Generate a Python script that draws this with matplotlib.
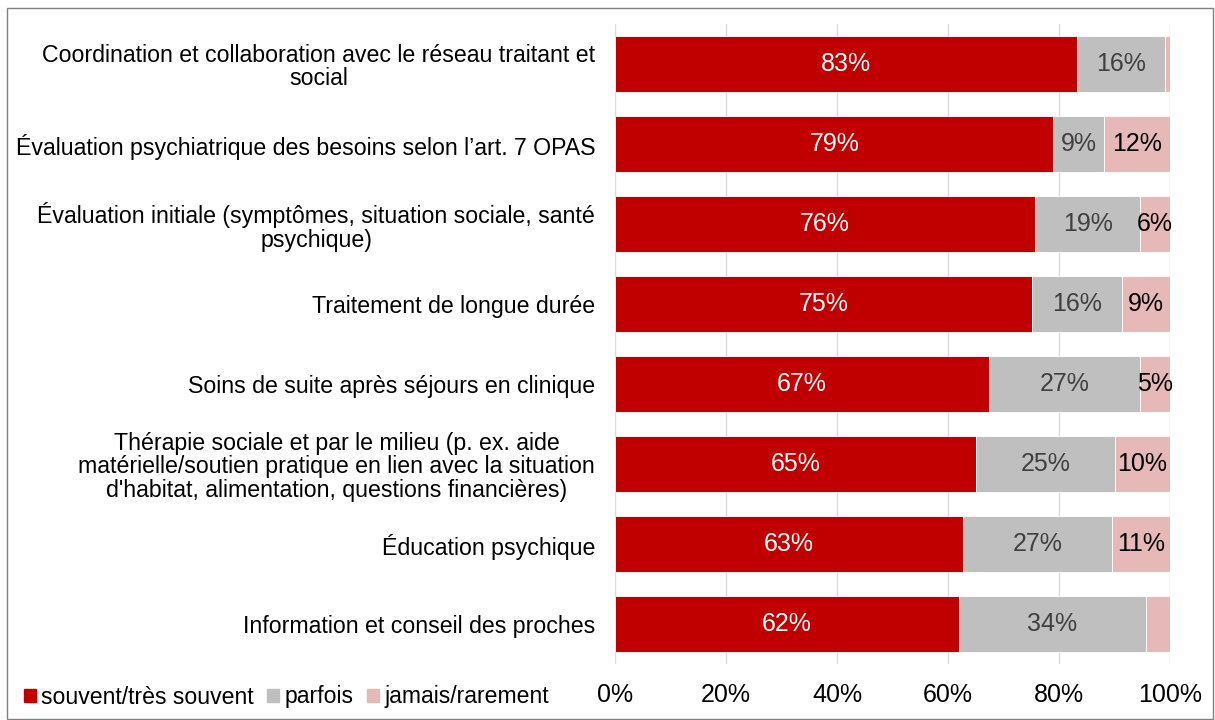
import matplotlib
matplotlib.use("Agg")
import matplotlib.pyplot as plt
from matplotlib.patches import Patch, Rectangle
from matplotlib.ticker import PercentFormatter

plt.rcParams["font.family"] = ["Liberation Sans", "DejaVu Sans"]

# ---------------------------
# Données
# ---------------------------
categories = [
    "Coordination et collaboration avec le réseau traitant et\nsocial",
    "Évaluation psychiatrique des besoins selon l’art. 7 OPAS",
    "Évaluation initiale (symptômes, situation sociale, santé\npsychique)",
    "Traitement de longue durée",
    "Soins de suite après séjours en clinique",
    "Thérapie sociale et par le milieu (p. ex. aide\nmatérielle/soutien pratique en lien avec la situation\nd'habitat, alimentation, questions financières)",
    "Éducation psychique",
    "Information et conseil des proches",
]
souvent = [83.2, 79.0, 75.7, 75.1, 67.4, 65.0, 62.7, 61.9]
parfois = [15.9, 9.1, 18.9, 16.3, 27.2, 25.1, 26.8, 33.7]
jamais = [0.9, 11.9, 5.4, 8.6, 5.4, 9.9, 10.5, 4.4]

lab_souvent = ["83%", "79%", "76%", "75%", "67%", "65%", "63%", "62%"]
lab_parfois = ["16%", "9%", "19%", "16%", "27%", "25%", "27%", "34%"]
lab_jamais = ["", "12%", "6%", "9%", "5%", "10%", "11%", ""]

series = ["souvent/très souvent", "parfois", "jamais/rarement"]
colors = ["#C00000", "#BFBFBF", "#E6B9B8"]
text_colors = ["white", "#404040", "black"]

# ---------------------------
# Figure
# ---------------------------
fig = plt.figure(figsize=(12.15, 7.2), dpi=100)
ax = fig.add_axes([615 / 1215, 1 - 664 / 720, 555 / 1215, 640 / 720])

y = list(range(len(categories)))
left = [0] * len(categories)
for vals, labs, col, tcol in zip([souvent, parfois, jamais],
                                 [lab_souvent, lab_parfois, lab_jamais],
                                 colors, text_colors):
    bars = ax.barh(y, vals, left=left, height=0.71, color=col,
                   edgecolor="white", linewidth=0.6, zorder=2)
    ax.bar_label(bars, labels=labs, label_type="center", color=tcol,
                 fontsize=18)
    left = [a + b for a, b in zip(left, vals)]

ax.set_xlim(0, 100)
ax.set_ylim(len(categories) - 0.5, -0.5)
ax.set_yticks(y)
ax.set_yticklabels(categories, fontsize=16.7, multialignment="center",
                   linespacing=1.05)
ax.set_xticks([0, 20, 40, 60, 80, 100])
ax.xaxis.set_major_formatter(PercentFormatter(decimals=0))
ax.tick_params(axis="x", labelsize=18, length=0, pad=14)
ax.tick_params(axis="y", length=0, pad=14.4)
ax.grid(axis="x", color="#D9D9D9", linewidth=1, zorder=0)
for s in ax.spines.values():
    s.set_visible(False)

# légende
handles = [Patch(color=c, label=s) for c, s in zip(colors, series)]
fig.legend(handles=handles, loc="center left", bbox_to_anchor=(12 / 1215, 1 - 697 / 720),
           ncol=3, frameon=False, fontsize=16.6, borderpad=0, handlelength=0.52,
           handleheight=0.52, handletextpad=0.22, columnspacing=0.6)

# cadre
fig.patches.append(Rectangle((7 / 1215, 0.002), 1 - 9 / 1215, 1 - 8 / 720 - 0.002,
                             transform=fig.transFigure, fill=False,
                             edgecolor="#808080", linewidth=1))

fig.savefig("out.png", dpi=100)
